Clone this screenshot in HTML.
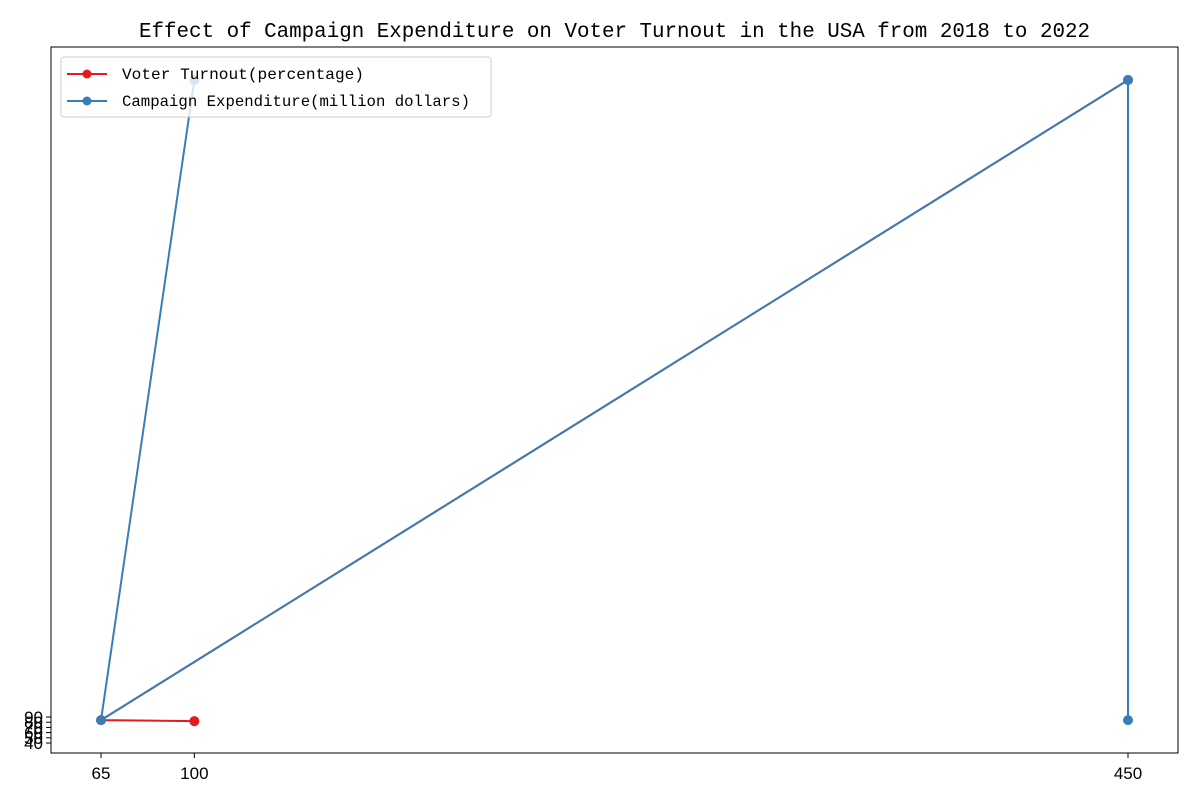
<!DOCTYPE html>
<html><head><meta charset="utf-8"><style>
body{margin:0;background:#fff;}
svg text{font-family:"Liberation Sans",sans-serif;}
.mono{font-family:"Liberation Mono","DejaVu Sans Mono",monospace;}
</style></head><body>
<svg id="chart" width="1200" height="800" xmlns="http://www.w3.org/2000/svg">
<rect width="1200" height="800" fill="#fff"/>
<text class="mono" x="139" y="37" font-size="21" textLength="951" lengthAdjust="spacingAndGlyphs" fill="#000">Effect of Campaign Expenditure on Voter Turnout in the USA from 2018 to 2022</text>
<g id="plot"></g>
<rect x="51" y="47" width="1127" height="706" fill="none" stroke="#000" stroke-width="1"/>
<g>
<rect x="61" y="57" width="430" height="60" rx="3" fill="#fff" fill-opacity="0.8" stroke="#ccc"/>
<g>
<line x1="67" y1="74" x2="107" y2="74" stroke="#e41a1c" stroke-width="2"/><circle cx="87" cy="74" r="4.5" fill="#e41a1c"/>
<text class="mono" x="122" y="79" font-size="16" textLength="242" lengthAdjust="spacingAndGlyphs">Voter Turnout(percentage)</text></g>
<g>
<line x1="67" y1="101" x2="107" y2="101" stroke="#377eb8" stroke-width="2"/><circle cx="87" cy="101" r="4.5" fill="#377eb8"/>
<text class="mono" x="122" y="106" font-size="16" textLength="348" lengthAdjust="spacingAndGlyphs">Campaign Expenditure(million dollars)</text></g>
</g>
</svg>
<script>
const xTicks=[65,100,450];
const yTicks=[40,50,60,70,80,90];
const turnoutX=[100,65,450];
const turnoutY=[82,84,1315];
const expendX=[100,65,450,450];
const expendY=[1315,84,1315,84];
const NS="http://www.w3.org/2000/svg";
function sx(v){return 101+(v-65)*(1128-101)/385;}
function sy(v){return 743-(v-40)*0.52;}
const g=document.getElementById('plot');
function mk(t,a){const e=document.createElementNS(NS,t);for(const k in a)e.setAttribute(k,a[k]);g.appendChild(e);return e;}
xTicks.forEach(v=>{
 const l=mk('line',{x1:sx(v),x2:sx(v),y1:753,y2:758,stroke:'#000'});
 
 
 const t=mk('text',{x:sx(v),y:779,'font-size':17,'text-anchor':'middle'});t.textContent=v;
 
 
});
yTicks.forEach(v=>{
 const l=mk('line',{x1:46,x2:51,y1:sy(v),y2:sy(v),stroke:'#000'});
 
 
 const t=mk('text',{x:43,y:sy(v)+6,'font-size':17,'text-anchor':'end'});t.textContent=v;
 
 
});
function series(xs,ys,c,name){
 const p=mk('polyline',{points:xs.map((x,i)=>sx(x)+','+sy(ys[i])).join(' '),fill:'none',stroke:c,'stroke-width':2});
 
 
 xs.forEach((x,i)=>{const m=mk('circle',{cx:sx(x),cy:sy(ys[i]),r:5,fill:c});
  
  });
}
series(turnoutX,turnoutY,'#e41a1c','voter-turnout');
series(expendX,expendY,'#377eb8','campaign-expenditure');
</script>
</body></html>
